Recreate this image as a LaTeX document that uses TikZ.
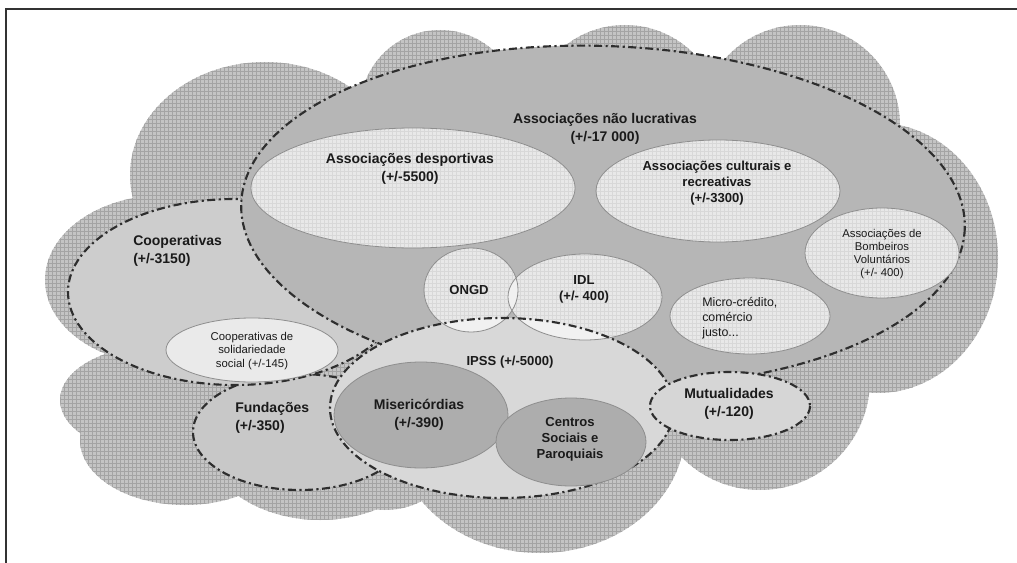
\documentclass[tikz,border=0pt]{standalone}
\usepackage{fontspec}
\setmainfont{Liberation Sans}
\usetikzlibrary{patterns}
\definecolor{cloudc}{HTML}{C4C4C4}
\definecolor{clouddot}{HTML}{A4A4A4}
\definecolor{bigc}{HTML}{B6B6B6}
\definecolor{subc}{HTML}{E8E8E8}
\definecolor{subgrid}{HTML}{D8D8D8}
\definecolor{subline}{HTML}{8E8E8E}
\definecolor{coopc}{HTML}{CDCDCD}
\definecolor{fundc}{HTML}{C8C8C8}
\definecolor{ipssc}{HTML}{D8D8D8}
\definecolor{mutc}{HTML}{D6D6D6}
\definecolor{solc}{HTML}{EAEAEA}
\definecolor{darkc}{HTML}{ADADAD}
\definecolor{overc}{HTML}{F1F1F1}
\definecolor{dashc}{HTML}{2E2E2E}
\definecolor{txtc}{HTML}{1A1A1A}
\begin{document}
\begin{tikzpicture}[x=0.75pt,y=-0.75pt,
  dashdot/.style={draw=dashc,line width=1.6pt,dash pattern=on 6pt off 2.6pt on 1.6pt off 2.6pt},
  thin/.style={draw=subline,line width=0.6pt},
  subfill/.style={fill=subc,postaction={pattern=grid,pattern color=subgrid}},
  hd/.style={font=\fontsize{10.5}{13.5}\selectfont\bfseries,text=txtc,align=center,inner sep=0pt},
  hdm/.style={font=\fontsize{9.8}{12}\selectfont\bfseries,text=txtc,align=center,inner sep=0pt},
  sm/.style={font=\fontsize{8.5}{9.8}\selectfont,text=txtc,align=center,inner sep=0pt},
  md/.style={font=\fontsize{9.3}{11.3}\selectfont,text=txtc,align=left,inner sep=0pt}]
\useasboundingbox (0,0) rectangle (1017,563);
% frame
\draw[line width=1.1pt,black!80] (6,563) -- (6,9) -- (1017,9);
% cloud
\def\cloudpath{
  (550,260) ellipse [x radius=400, y radius=180]
  (265,175) ellipse [x radius=135, y radius=113]
  (440,110) circle [radius=80]
  (625,122) circle [radius=97]
  (800,125) circle [radius=100]
  (878,258) ellipse [x radius=120, y radius=135]
  (760,380) circle [radius=110]
  (540,430) ellipse [x radius=145, y radius=123]
  (385,430) circle [radius=80]
  (320,430) ellipse [x radius=120, y radius=90]
  (160,400) ellipse [x radius=100, y radius=55]
  (185,440) ellipse [x radius=105, y radius=65]
  (165,280) ellipse [x radius=120, y radius=85]}
\fill[cloudc] \cloudpath;
\fill[pattern=grid, pattern color=clouddot] \cloudpath;
% Fundacoes
\fill[fundc] (300,432) ellipse [x radius=107, y radius=58];
\draw[dashdot] (300,432) ellipse [x radius=107, y radius=58];
% Cooperativas
\fill[coopc] (235,292) ellipse [x radius=167, y radius=93];
\draw[dashdot] (235,292) ellipse [x radius=167, y radius=93];
% Associacoes nao lucrativas
\begin{scope}[rotate around={-2:(603,216)}]
\fill[bigc] (603,216) ellipse [x radius=362, y radius=170];
\draw[dashdot] (603,216) ellipse [x radius=362, y radius=170];
\end{scope}
% inner light ellipses
\path[subfill] (413,188) ellipse [x radius=162, y radius=60];
\draw[thin] (413,188) ellipse [x radius=162, y radius=60];
\path[subfill] (718,191) ellipse [x radius=122, y radius=51];
\draw[thin] (718,191) ellipse [x radius=122, y radius=51];
\path[subfill] (882,253) ellipse [x radius=77, y radius=45];
\draw[thin] (882,253) ellipse [x radius=77, y radius=45];
\path[subfill] (750,316) ellipse [x radius=80, y radius=38];
\draw[thin] (750,316) ellipse [x radius=80, y radius=38];
\path[subfill] (471,290) ellipse [x radius=47, y radius=42];
\path[subfill] (585,297) ellipse [x radius=77, y radius=43];
\begin{scope}
\clip (471,290) ellipse [x radius=47, y radius=42];
\fill[overc] (585,297) ellipse [x radius=77, y radius=43];
\end{scope}
\draw[thin] (471,290) ellipse [x radius=47, y radius=42];
\draw[thin] (585,297) ellipse [x radius=77, y radius=43];
% Cooperativas de solidariedade
\fill[solc] (252,350) ellipse [x radius=86, y radius=32];
\draw[thin] (252,350) ellipse [x radius=86, y radius=32];
% IPSS
\fill[ipssc] (502,408) ellipse [x radius=172, y radius=90];
\begin{scope}
\clip (502,408) ellipse [x radius=172, y radius=90];
\fill[overc] (471,290) ellipse [x radius=47, y radius=42];
\fill[overc] (585,297) ellipse [x radius=77, y radius=43];
\draw[thin] (471,290) ellipse [x radius=47, y radius=42];
\draw[thin] (585,297) ellipse [x radius=77, y radius=43];
\end{scope}
\draw[dashdot] (502,408) ellipse [x radius=172, y radius=90];
% Misericordias, Centros
\fill[darkc] (421,415) ellipse [x radius=87, y radius=53];
\draw[thin] (421,415) ellipse [x radius=87, y radius=53];
\fill[darkc] (571,442) ellipse [x radius=75, y radius=44];
\draw[thin] (571,442) ellipse [x radius=75, y radius=44];
% Mutualidades
\fill[mutc] (730,406) ellipse [x radius=80, y radius=34];
\draw[dashdot] (730,406) ellipse [x radius=80, y radius=34];
% texts
\node[hd] (tnl) at (605,129) {Associações não lucrativas\\(+/-17 000)};
\node[hd] (tdesp) at (410,169) {Associações desportivas\\(+/-5500)};
\node[hdm] (tcult) at (717,183) {Associações culturais e\\recreativas\\(+/-3300)};
\node[sm] (tbomb) at (882,254) {Associações de\\Bombeiros\\Voluntários\\(+/- 400)};
\node[md,anchor=west] (tmicro) at (702,318) {Micro-crédito,\\comércio\\justo...};
\node[hdm] (tongd) at (469,290) {ONGD};
\node[hdm] (tidl) at (584,289) {IDL\\(+/- 400)};
\node[hd,align=left,anchor=west] (tcoop) at (133,251) {Cooperativas\\(+/-3150)};
\node[sm] (tsol) at (252,351) {Cooperativas de\\solidariedade\\social (+/-145)};
\node[hdm] (tipss) at (510,362) {IPSS (+/-5000)};
\node[hd,align=left,anchor=west] (tfund) at (235,418) {Fundações\\(+/-350)};
\node[hd] (tmis) at (419,415) {Misericórdias\\(+/-390)};
\node[hdm] (tcen) at (570,439) {Centros\\Sociais e\\Paroquiais};
\node[hd] (tmut) at (729,404) {Mutualidades\\(+/-120)};
\end{tikzpicture}
\end{document}
